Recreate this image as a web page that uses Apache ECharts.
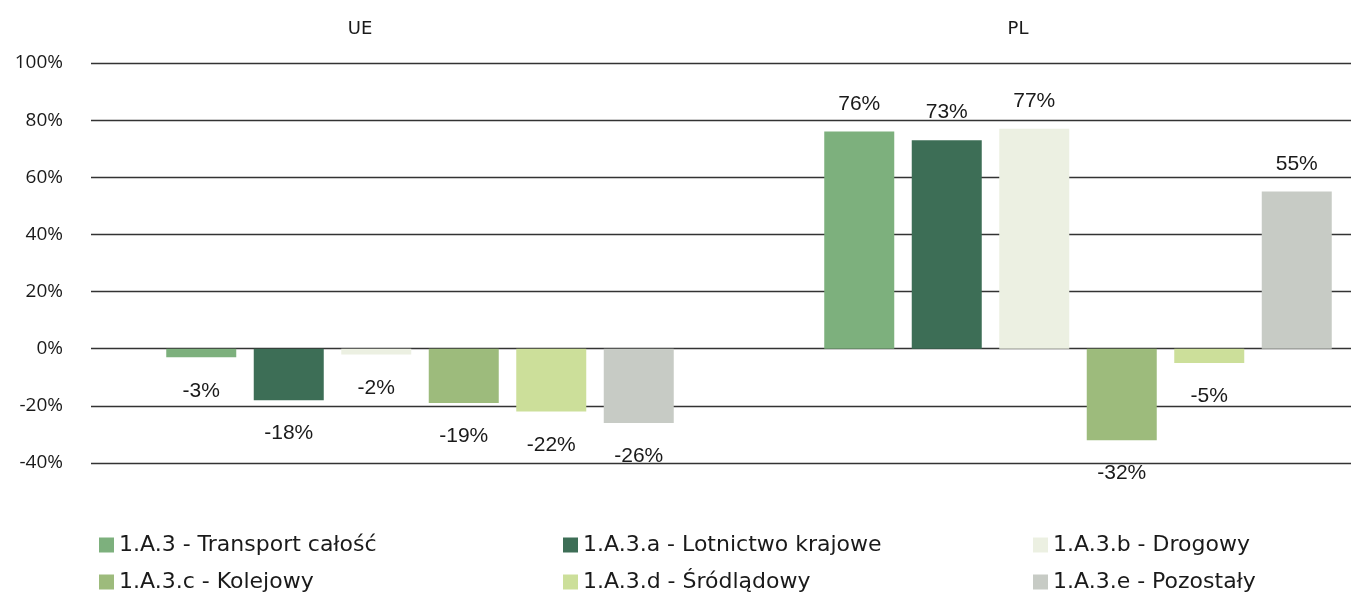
<!DOCTYPE html>
<html>
<head>
<meta charset="utf-8">
<script src="https://cdn.jsdelivr.net/npm/echarts@6/dist/echarts.min.js"></script>
<style>html,body{margin:0;padding:0;background:#fff}#c{width:1351px;height:594px}</style>
</head>
<body>
<div id="c"></div>
<script>
const categories = ['UE', 'PL'];
const seriesNames = ['1.A.3 - Transport całość', '1.A.3.a - Lotnictwo krajowe', '1.A.3.b - Drogowy', '1.A.3.c - Kolejowy', '1.A.3.d - Śródlądowy', '1.A.3.e - Pozostały'];
const transport = [-3, 76];
const lotnictwo = [-18, 73];
const drogowy = [-2, 77];
const kolejowy = [-19, -32];
const srodladowy = [-22, -5];
const pozostaly = [-26, 55];
const colors = ['#7DB07D', '#3D6E56', '#ECF0E2', '#9DBB7C', '#CCDF9A', '#C7CBC5'];
const yTicks = { min: -40, max: 100, interval: 20 };

const allValues = [transport, lotnictwo, drogowy, kolejowy, srodladowy, pozostaly];

const labelFont = '"Liberation Sans", Arial, sans-serif';
const axisFont = '"Open Sans", sans-serif';
const legendFamily = '"DejaVu Sans", sans-serif';

const chart = echarts.init(document.getElementById('c'), null, { renderer: 'canvas' });
const series = allValues.map((vals, i) => ({
  name: seriesNames[i],
  type: 'bar',
  barWidth: 70,
  barGap: '25%',
  itemStyle: { color: colors[i] },
  z: 3,
  data: vals.map(v => ({
    value: v,
    label: v < 0 ? { position: 'bottom', distance: 23 } : { position: 'top', distance: 17 }
  })),
  label: {
    show: true,
    formatter: '{c}%',
    fontFamily: labelFont,
    fontSize: 21,
    color: '#1a1a1a'
  }
}));

const legendFont = { fontFamily: legendFamily, fontSize: 22, color: '#1a1a1a' };
const legendLefts = [94, 558, 1028];
const legendTops = [529, 566];
const legends = seriesNames.map((name, i) => ({
  orient: 'horizontal',
  left: legendLefts[i % 3],
  top: legendTops[Math.floor(i / 3)],
  itemWidth: 15,
  itemHeight: 15,
  icon: 'rect',
  textStyle: legendFont,
  data: [name]
}));

chart.setOption({
  animation: false,
  grid: { left: 91, width: 1316, top: 63, bottom: 131, containLabel: false, outerBoundsMode: 'none' },
  xAxis: {
    type: 'category',
    position: 'top',
    data: categories,
    axisLine: { show: false },
    axisTick: { show: false },
    axisLabel: {
      margin: 25,
      fontFamily: legendFamily,
      fontSize: 18,
      color: '#1a1a1a',
      padding: [0, 120, 0, 0]
    }
  },
  yAxis: {
    type: 'value',
    min: yTicks.min,
    max: yTicks.max,
    interval: yTicks.interval,
    axisLine: { show: false },
    axisTick: { show: false },
    splitLine: { lineStyle: { color: '#333', width: 1.3 } },
    axisLabel: {
      formatter: '{value}%',
      margin: 28,
      fontFamily: axisFont,
      fontSize: 19,
      color: '#1a1a1a'
    }
  },
  legend: legends,
  series: series
});
</script>
</body>
</html>
